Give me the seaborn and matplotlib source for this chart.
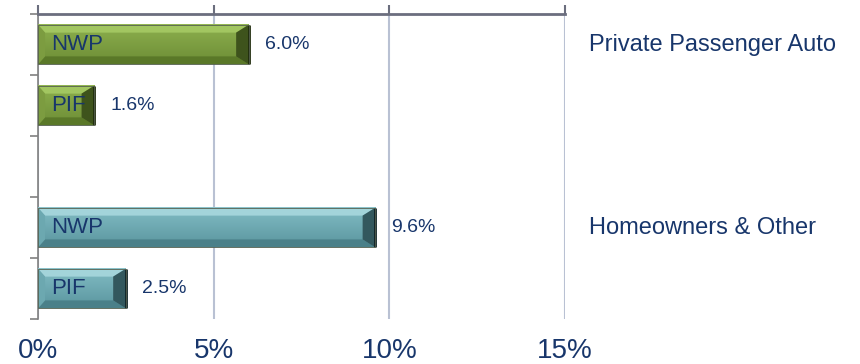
import matplotlib
matplotlib.use("Agg")
import matplotlib.pyplot as plt
from matplotlib.patches import Polygon
from matplotlib.colors import LinearSegmentedColormap
import numpy as np
import seaborn as sns
import pandas as pd

# Growth rates by line of business
segments = ["Private Passenger Auto", "Private Passenger Auto", "Homeowners & Other", "Homeowners & Other"]
metrics = ["NWP", "PIF", "NWP", "PIF"]
growth = [6.0, 1.6, 9.6, 2.5]
rows = ["PPA NWP", "PPA PIF", "HO NWP", "HO PIF"]
row_order = ["PPA NWP", "PPA PIF", "gap", "HO NWP", "HO PIF"]
x_ticks = [0, 5, 10, 15]
x_tick_labels = ["0%", "5%", "10%", "15%"]
segment_labels = ["Private Passenger Auto", "Homeowners & Other"]

NAVY = "#18366B"
# face top, face bottom, top bevel, bottom bevel, left bevel, right bevel, dark edge
GREEN = ["#8DB04E", "#6D8D36", "#A2C661", "#5A7828", "#7C9C40", "#3E531C", "#1F2C0C"]
TEAL = ["#82BDC5", "#5A959E", "#A3D4DA", "#4A8089", "#6CA8B0", "#33585E", "#0F2226"]
styles = {"PPA NWP": GREEN, "PPA PIF": GREEN, "HO NWP": TEAL, "HO PIF": TEAL}

df = pd.DataFrame({"row": rows, "growth": growth, "metric": metrics, "segment": segments})

sns.set_theme(style="white")
plt.rcParams["font.family"] = ["Liberation Sans", "DejaVu Sans"]

fig = plt.figure(figsize=(8.6, 3.64), dpi=100)
ax = fig.add_axes([38 / 860, 1 - 319 / 364, (565 - 38) / 860, 305 / 364])

sns.barplot(data=df, y="row", x="growth", hue="row", order=row_order,
            palette={r: styles[r][0] for r in rows},
            orient="h", width=0.65, legend=False, ax=ax,
            edgecolor="none", linewidth=0, zorder=3)

ax.set_xlim(0, 15)
ax.set_ylim(4.5, -0.5)

# bevelled, shaded rendering of each bar
bars = [p for p in ax.patches if p.get_width() > 0]
bxl, bxr, by = 0.2, 0.36, 0.13
for patch, row, val, met in zip(bars, df["row"], df["growth"], df["metric"]):
    x0, y0, w, h = patch.get_x(), patch.get_y(), patch.get_width(), patch.get_height()
    x1, y1 = x0 + w, y0 + h
    c = styles[row]
    cmap = LinearSegmentedColormap.from_list(row, [c[0], c[1]])
    grad = np.linspace(0, 1, 64).reshape(-1, 1)
    ax.imshow(grad, cmap=cmap, aspect="auto", extent=(x0, x1, y1, y0),
              origin="upper", zorder=3.5, interpolation="bilinear")
    polys = [
        ([(x0, y0), (x1, y0), (x1 - bxr, y0 + by), (x0 + bxl, y0 + by)], c[2]),
        ([(x0, y1), (x1, y1), (x1 - bxr, y1 - by), (x0 + bxl, y1 - by)], c[3]),
        ([(x0, y0), (x0 + bxl, y0 + by), (x0 + bxl, y1 - by), (x0, y1)], c[4]),
        ([(x1, y0), (x1 - bxr, y0 + by), (x1 - bxr, y1 - by), (x1, y1)], c[5]),
    ]
    for pts, col in polys:
        ax.add_patch(Polygon(pts, closed=True, facecolor=col, edgecolor="none", zorder=4))
    ax.plot([x1, x1], [y0, y1], color=c[6], linewidth=2, zorder=5, solid_capstyle="butt")
    ax.add_patch(Polygon([(x0, y0), (x1, y0), (x1, y1), (x0, y1)], closed=True,
                         facecolor="none", edgecolor="#55604F", linewidth=0.6, zorder=5))
    yc = y0 + h / 2
    ax.text(x0 + 0.38, yc, met, ha="left", va="center", fontsize=16, color=NAVY, zorder=6)
    ax.text(x1 + 0.45, yc, f"{val:.1f}%", ha="left", va="center", fontsize=14, color=NAVY)

ax.set_xlim(0, 15)
ax.set_ylim(4.5, -0.5)

# segment names to the right of the plot, level with their NWP bar
for label in segment_labels:
    pos = row_order.index(rows[segments.index(label)])
    ax.text(15.68, pos, label, ha="left", va="center", fontsize=17, color=NAVY, clip_on=False)

# axes styling
ax.set_xlabel("")
ax.set_ylabel("")
ax.set_xticks(x_ticks)
ax.set_xticklabels(x_tick_labels, fontsize=20, color=NAVY)
ax.set_yticks([-0.5, 0.5, 1.5, 2.5, 3.5, 4.5])
ax.set_yticklabels([])
ax.tick_params(axis="x", top=True, bottom=False, labeltop=False, labelbottom=True,
               direction="out", length=6.5, width=1.5, color="#6B6E7E", pad=7.5)
ax.tick_params(axis="y", left=True, direction="out", length=5.8, width=1.2, color="#808080")
ax.grid(axis="x", color="#B9C1D3", linewidth=1.5, zorder=0)
ax.grid(axis="y", visible=False)
ax.set_axisbelow(True)
for side in ["right", "bottom"]:
    ax.spines[side].set_visible(False)
ax.spines["top"].set_color("#6B6E7E")
ax.spines["top"].set_linewidth(2)
ax.spines["left"].set_color("#808080")
ax.spines["left"].set_linewidth(1.2)

fig.savefig("out.png", dpi=100)
